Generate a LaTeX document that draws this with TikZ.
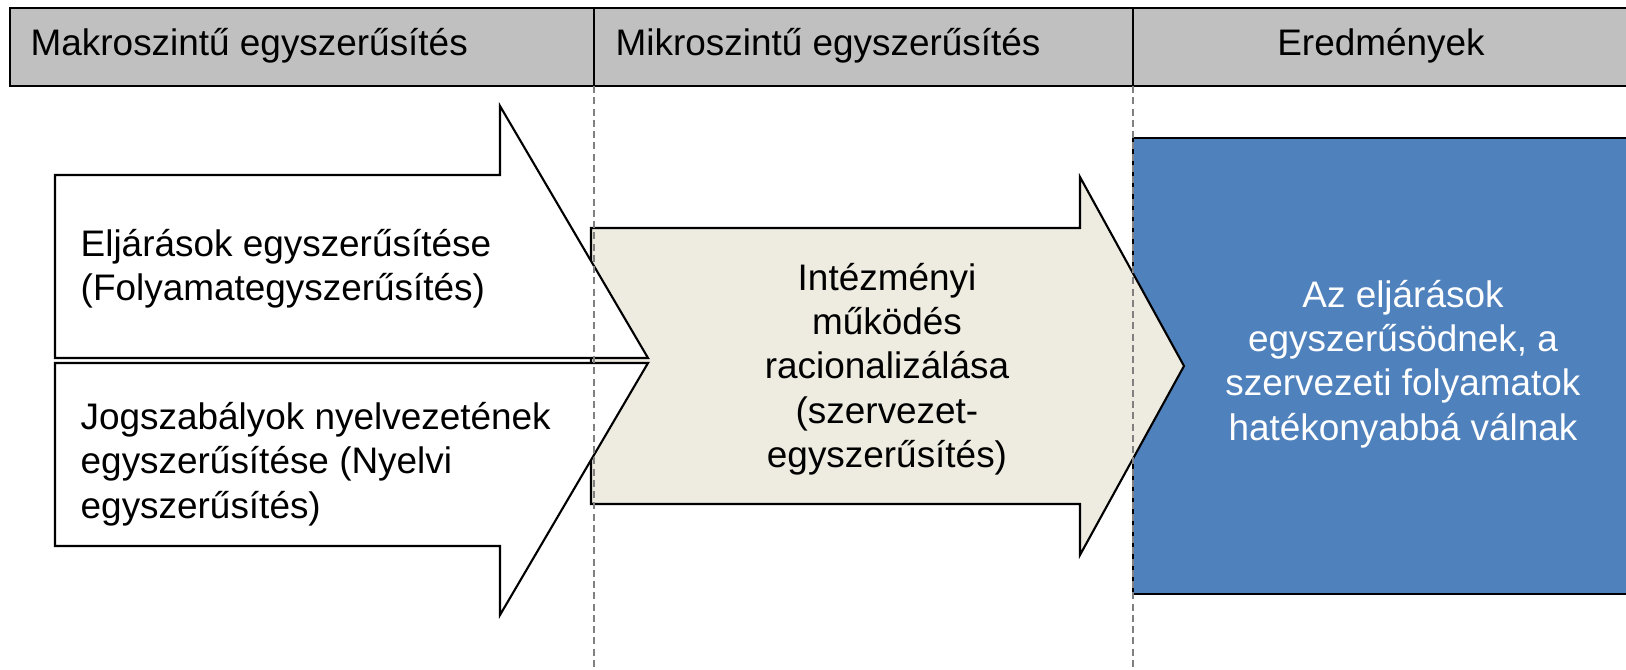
\documentclass[tikz,border=0pt]{standalone}
\usepackage{fontspec}
\setmainfont{Liberation Sans}
\definecolor{headgray}{HTML}{C0C0C0}
\definecolor{paper}{HTML}{EEECE1}
\definecolor{result}{HTML}{4F81BD}

\begin{document}
\begin{tikzpicture}[
  x = 0.01cm, y = -0.01cm,
  every node/.style = {font = \fontsize{10.5}{12.6}\selectfont, inner sep = 0pt},
  header/.style = {draw, line width = 0.8pt, fill = headgray},
  arrowbox/.style = {draw, line width = 0.6pt, fill = white},
  lane/.style = {draw = gray, line width = 0.5pt, dash pattern = on 2pt off 1.2pt},
  ]
  \useasboundingbox (0,0) rectangle (1626,670);
  \draw[header] (10,8) rectangle (594,86);
  \draw[header] (594,8) rectangle (1133,86);
  \draw[header] (1133,8) rectangle (1660,86);
  \node[anchor = base west] (makro) at (30,56) {Makroszintű egyszerűsítés};
  \node[anchor = base west] (mikro) at (615,56) {Mikroszintű egyszerűsítés};
  \node[anchor = base] (eredmenyek) at (1381,56) {Eredmények};

  \draw[fill = result, line width = 0.6pt] (1133,138) rectangle (1660,594);
  \draw[arrowbox, fill = paper] (591,228) -- (1080,228) -- (1080,177) -- (1184,366)
    -- (1080,555) -- (1080,504) -- (591,504) -- cycle;
  \draw[arrowbox] (55,175) -- (500,175) -- (500,106) -- (648,358) -- (55,358) -- cycle;
  \draw[arrowbox] (55,363) -- (648,363) -- (500,615) -- (500,546) -- (55,546) -- cycle;

  \draw[lane] (594,86) -- (594,670);
  \draw[lane] (1133,86) -- (1133,670);

  \node[anchor = west, align = left] (eljaras) at (80,269)
    {Eljárások egyszerűsítése\\(Folyamategyszerűsítés)};
  \node[anchor = west, align = left] (jogszabaly) at (80,464)
    {Jogszabályok nyelvezetének\\egyszerűsítése (Nyelvi\\egyszerűsítés)};
  \node[align = center] (intezmeny) at (887,369)
    {Intézményi\\működés\\racionalizálása\\(szervezet-\\egyszerűsítés)};
  \node[align = center, text = white] (eredmeny) at (1403,364)
    {Az eljárások\\egyszerűsödnek, a\\szervezeti folyamatok\\hatékonyabbá válnak};
\end{tikzpicture}
\end{document}
